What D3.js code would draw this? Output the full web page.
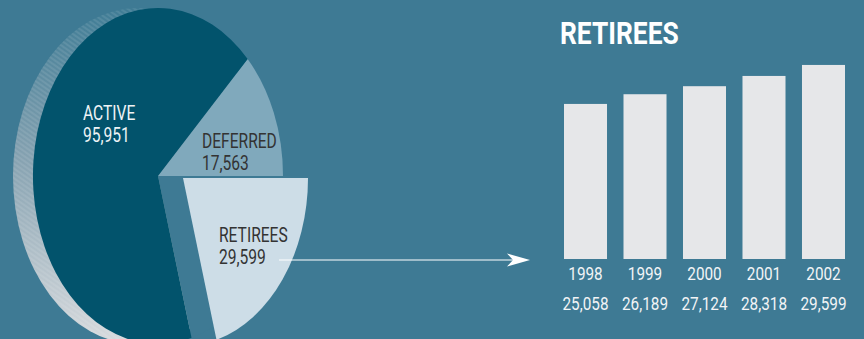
<!DOCTYPE html>
<html>
<head>
<meta charset="utf-8">
<script src="https://cdn.jsdelivr.net/npm/d3@7"></script>
<style>
html, body { margin: 0; padding: 0; background: #3e7a94; }
svg { display: block; }
text { font-family: "Roboto", "DejaVu Sans Condensed", sans-serif; }
</style>
</head>
<body>
<div class="chart"></div>
<script>
// membership pie (retirees pulled out) + retirees by year

var memberLabels = ["DEFERRED", "RETIREES", "ACTIVE"];
var memberValues = [17563, 29599, 95951];
var memberColors = ["#80a9bc", "#cddde7", "#02536c"];

var years = ["1998", "1999", "2000", "2001", "2002"];
var retirees = [25058, 26189, 27124, 28318, 29599];

var width = 864, height = 339;
var bg = "#3e7a94";
var fmt = d3.format(",");

var svg = d3.select(".chart").append("svg")
    .attr("width", width)
    .attr("height", height);

svg.append("rect").attr("width", width).attr("height", height).attr("fill", bg);

// condensed look: squeeze the text horizontally
function label(parent, x, y, str, size, sx, color, anchor, weight) {
    return parent.append("text")
        .attr("transform", "translate(" + x + "," + y + ") scale(" + sx + ",1)")
        .attr("text-anchor", anchor || "start")
        .attr("fill", color)
        .style("font-size", size + "px")
        .style("font-weight", weight || "normal")
        .text(str);
}

var defs = svg.append("defs");

/* side of the disc: gradient + hatch */
var grad = defs.append("linearGradient")
    .attr("id", "side").attr("x1", 0).attr("y1", 0).attr("x2", 0).attr("y2", 1);
grad.append("stop").attr("offset", "0%").attr("stop-color", "#3f7c95");
grad.append("stop").attr("offset", "45%").attr("stop-color", "#86a2b1");
grad.append("stop").attr("offset", "100%").attr("stop-color", "#d8dbde");

var hatch = defs.append("pattern")
    .attr("id", "hatch")
    .attr("patternUnits", "userSpaceOnUse")
    .attr("width", 8).attr("height", 4)
    .attr("patternTransform", "rotate(35)");
hatch.append("line")
    .attr("x1", 0).attr("y1", 2).attr("x2", 8).attr("y2", 2)
    .attr("stroke", "#ffffff").attr("stroke-opacity", 0.22).attr("stroke-width", 0.8);

/* pie geometry */
var cx = 158, cy = 176, rx = 125, ry = 168;
var pull = [25, 2];

var g = svg.append("g");

g.append("ellipse")
    .attr("cx", cx - 20).attr("cy", cy).attr("rx", rx).attr("ry", ry)
    .attr("fill", "url(#side)");
g.append("ellipse")
    .attr("cx", cx - 20).attr("cy", cy).attr("rx", rx).attr("ry", ry)
    .attr("fill", "url(#hatch)");

var total = d3.sum(memberValues);
var start = Math.PI / 2 - memberValues[0] / total * 2 * Math.PI;

var pie = d3.pie().sort(null).startAngle(start).endAngle(start + 2 * Math.PI);
var arc = d3.arc().innerRadius(0).outerRadius(1);

var arcs = pie(memberValues);

function place(off) {
    return "translate(" + (cx + off[0]) + "," + (cy + off[1]) + ") scale(" + rx + "," + ry + ")";
}

// hole left behind by the pulled-out slice
g.append("path")
    .datum(arcs[1])
    .attr("transform", place([0, 0]))
    .attr("d", arc)
    .attr("fill", bg);

g.selectAll("path.slice")
    .data(arcs)
    .enter().append("path")
    .attr("class", "slice")
    .attr("transform", function(d, i) {
        return place(memberLabels[i] === "RETIREES" ? pull : [0, 0]);
    })
    .attr("d", arc)
    .attr("fill", function(d, i) { return memberColors[i]; });

/* pie labels */
var labelPos = { "ACTIVE": [83, 120, "#eef3f6"],
                 "DEFERRED": [202, 148, "#333333"],
                 "RETIREES": [219, 242, "#333333"] };

memberLabels.forEach(function(name, i) {
    var p = labelPos[name];
    label(g, p[0], p[1], name, 19.5, 0.8, p[2]);
    label(g, p[0], p[1] + 22, fmt(memberValues[i]), 19.5, 0.8, p[2]);
});

/* arrow */
svg.append("line")
    .attr("x1", 279).attr("y1", 260).attr("x2", 515).attr("y2", 260)
    .attr("stroke", "#ffffff").attr("stroke-width", 1.2);
svg.append("path")
    .attr("d", "M530,260 L507,253.5 L513,260 L507,266.5 Z")
    .attr("fill", "#ffffff");

/* bar chart */
var x = d3.scaleBand().domain(years).range([564, 845]).paddingInner(0.277).paddingOuter(0);
var y = d3.scaleLinear().domain([7000, 30000]).range([259, 61.5]);

var bars = svg.append("g");

bars.selectAll("rect")
    .data(retirees)
    .enter().append("rect")
    .attr("x", function(d, i) { return x(years[i]); })
    .attr("y", function(d) { return y(d); })
    .attr("width", x.bandwidth())
    .attr("height", function(d) { return y(7000) - y(d); })
    .attr("fill", "#e6e7e9");

years.forEach(function(yr, i) {
    var cxBar = x(yr) + x.bandwidth() / 2;
    label(bars, cxBar, 280, yr, 17.8, 0.86, "#f2f4f6", "middle");
    label(bars, cxBar, 309.5, fmt(retirees[i]), 17.8, 0.86, "#f2f4f6", "middle");
});

label(svg, 560, 44, "RETIREES", 31, 0.85, "#ffffff", "start", "bold");
</script>
</body>
</html>
